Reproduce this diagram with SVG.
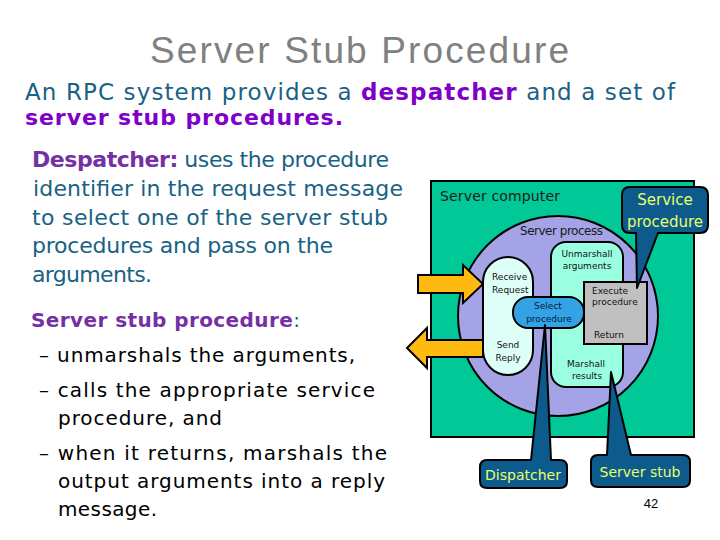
<svg xmlns="http://www.w3.org/2000/svg" width="720" height="540" viewBox="0 0 720 540">
<style>
.title{font-family:"Liberation Sans",Arial,sans-serif;font-size:37px;fill:#808080}
.intro{font-family:"DejaVu Sans",sans-serif;font-size:22px;fill:#186283}
.hp{fill:#8000C8;font-weight:bold}
.para{font-family:"DejaVu Sans",sans-serif;font-size:22px;fill:#186283}
.bl{font-family:"DejaVu Sans",sans-serif;font-size:20px;fill:#000}
.mp{fill:#7530A5;font-weight:bold}
.stk{stroke:#000;stroke-width:2}
.lbl{font-family:"DejaVu Sans",sans-serif;font-size:9px;fill:#111}
.big{font-family:"DejaVu Sans",sans-serif;fill:#1a1a1a}
.call{fill:#0D5A8C;stroke:#000;stroke-width:2;stroke-linejoin:round}
.ct{font-family:"DejaVu Sans",sans-serif;fill:#E8FF6A;text-anchor:middle}
.arrow{fill:#FFBA12;stroke:#000;stroke-width:2;stroke-linejoin:miter}
</style>
<rect width="720" height="540" fill="#fff"/>
<text class="title" x="150" y="63" textLength="419">Server Stub Procedure</text>
<text class="intro" x="25" y="100" style="font-size:23px" textLength="650">An RPC system provides a <tspan class="hp">despatcher</tspan> and a set of</text>
<text class="intro hp" x="25" y="125" textLength="318">server stub procedures.</text>

<g id="despatcher-text" class="para">
<text x="32" y="167" textLength="357"><tspan class="mp">Despatcher:</tspan> uses the procedure</text>
<text x="33" y="196" textLength="370">identifier in the request message</text>
<text x="32" y="225" textLength="356">to select one of the server stub</text>
<text x="32" y="253" textLength="301">procedures and pass on the</text>
<text x="32" y="282" textLength="120">arguments.</text>
</g>
<g id="stub-text">
<text class="para" x="31" y="327" style="font-size:20px" textLength="269"><tspan class="mp">Server stub procedure</tspan>:</text>
<text class="bl" x="39" y="362" textLength="316">– unmarshals the arguments,</text>
<text class="bl" x="39" y="397" textLength="336">– calls the appropriate service</text>
<text class="bl" x="58" y="425" textLength="164">procedure, and</text>
<text class="bl" x="39" y="460" textLength="348">– when it returns, marshals the</text>
<text class="bl" x="58" y="488" textLength="327">output arguments into a reply</text>
<text class="bl" x="58" y="516" textLength="99">message.</text>
</g>

<g id="server-computer">
<rect x="431" y="181" width="263" height="256" fill="#00C896" class="stk"/>
<text class="big" x="440" y="201" font-size="14" textLength="120">Server computer</text>
</g>
<g id="server-process">
<circle cx="558" cy="316" r="100" fill="#A3A3E6" class="stk"/>
<text class="big" x="520" y="235" font-size="12" textLength="83">Server process</text>
</g>

<g id="connectors">
<polygon class="arrow" points="418,275 463,275 463,265 483,284 463,303 463,293 418,293"/>
<polygon class="arrow" points="483,340 427,340 427,328 407,348 427,368 427,357 483,357"/>
</g>

<g id="stub-pill">
<rect x="551" y="242" width="72" height="145" rx="15" fill="#9AFFE0" class="stk"/>
<text class="lbl" x="587" y="257" text-anchor="middle">Unmarshall</text>
<text class="lbl" x="587" y="269" text-anchor="middle">arguments</text>
<text class="lbl" x="586" y="367" text-anchor="middle">Marshall</text>
<text class="lbl" x="587" y="379" text-anchor="middle">results</text>
</g>
<g id="request-pill">
<rect x="483" y="257" width="50" height="118" rx="25" fill="#DEFFF7" class="stk"/>
<text class="lbl" x="492" y="280">Receive</text>
<text class="lbl" x="492" y="293">Request</text>
<text class="lbl" x="508" y="348" text-anchor="middle">Send</text>
<text class="lbl" x="508" y="361" text-anchor="middle">Reply</text>
</g>
<g id="execute">
<rect x="584" y="282" width="63" height="62" fill="#C0C0C0" class="stk"/>
<text class="lbl" x="592" y="294">Execute</text>
<text class="lbl" x="592" y="305">procedure</text>
<text class="lbl" x="594" y="338">Return</text>
</g>
<g id="select">
<rect x="513" y="297" width="71" height="31" rx="15" fill="#33A3E6" class="stk"/>
<text class="lbl" x="548" y="309" text-anchor="middle" style="fill:#0a1a40">Select</text>
<text class="lbl" x="549" y="322" text-anchor="middle" style="fill:#0a1a40">procedure</text>
</g>

<g id="service-procedure">
<path class="call" d="M630,187 H700 Q708,187 708,195 V225 Q708,233 700,233 H658 L637,288 L636,233 H630 Q622,233 622,225 V195 Q622,187 630,187 Z"/>
<text class="ct" x="665" y="205" font-size="15">Service</text>
<text class="ct" x="665" y="227" font-size="15">procedure</text>
</g>
<g id="dispatcher">
<path class="call" d="M487,460 H531 L545,325 L551,460 H560 Q567,460 567,467 V481 Q567,488 560,488 H487 Q480,488 480,481 V467 Q480,460 487,460 Z"/>
<text class="ct" x="523" y="480" font-size="14">Dispatcher</text>
</g>
<g id="server-stub">
<path class="call" d="M598,455 H607 L611,372 L631,455 H683 Q690,455 690,462 V480 Q690,487 683,487 H598 Q591,487 591,480 V462 Q591,455 598,455 Z"/>
<text class="ct" x="640" y="477" font-size="14">Server stub</text>
</g>
<text x="651" y="508" font-family="Liberation Sans,Arial,sans-serif" font-size="13" text-anchor="middle" fill="#000">42</text>
</svg>
